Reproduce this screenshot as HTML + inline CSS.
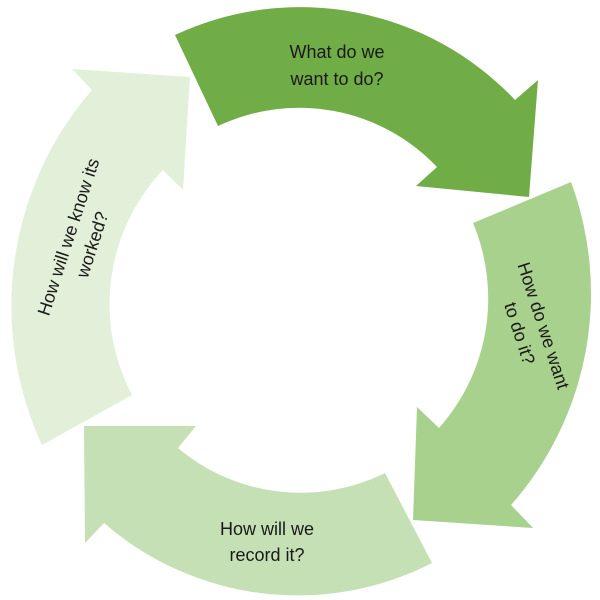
<!DOCTYPE html>
<html><head><style>body{margin:0;background:#fff}svg{display:block}</style></head><body>
<svg width="600" height="600" viewBox="0 0 600 600" xmlns="http://www.w3.org/2000/svg" font-family="Liberation Sans, sans-serif" font-size="18" fill="#1a1a1a">
<path d="M175,35 A295,295 0 0 1 515,100 L538,80 L529,197 L416,186 L437,167 A190,190 0 0 0 218,126 Z" fill="#70ad47"/>
<path d="M571,182 A320,320 0 0 1 511,505 L533,528 L413,520 L417,407 L439,428 A195,195 0 0 0 473,223 Z" fill="#a9d18e"/>
<path d="M432,563 A295,295 0 0 1 104,523 L85,543 L84,426 L196,426 L178,448 A190,190 0 0 0 385,473 Z" fill="#c5e0b4"/>
<path d="M42,445 A330,330 0 0 1 92,90 L72,69 L190,77 L183,190 L163,170 A195,195 0 0 0 132,395 Z" fill="#e2f0d9"/>
<g text-anchor="middle">
<text x="337" y="58">What do we</text>
<text x="337" y="85">want to do?</text>
<text x="267" y="535">How will we</text>
<text x="267" y="561">record it?</text>
<g transform="translate(530,330) rotate(72)"><text x="0" y="-8">How do we want</text><text x="0" y="17">to do it?</text></g>
<g transform="translate(78,240) rotate(-72)"><text x="0" y="-4">How will we know its</text><text x="0" y="21">worked?</text></g>
</g>
</svg>
</body></html>
